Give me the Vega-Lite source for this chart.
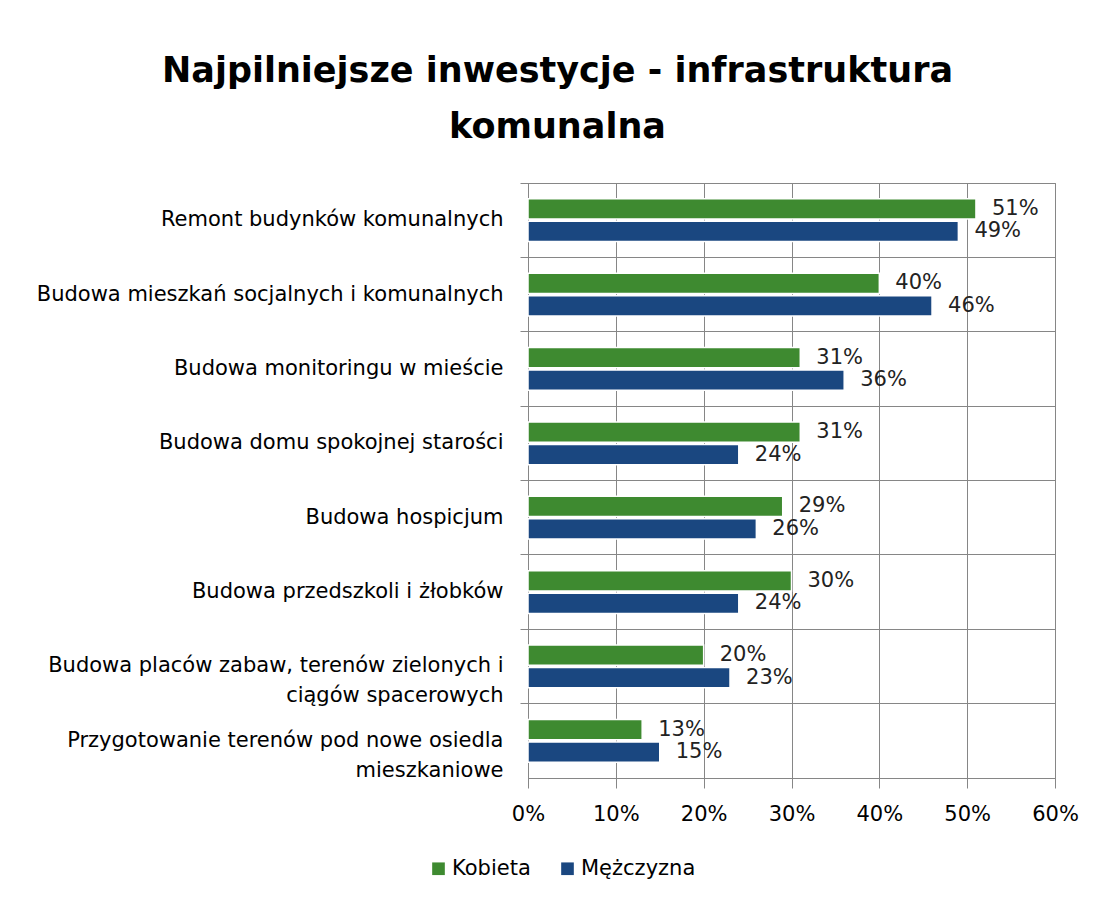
{
  "$schema": "https://vega.github.io/schema/vega-lite/v6.json",
  "width": 527,
  "height": 595,
  "autosize": "none",
  "padding": {"left": 528, "top": 183, "right": 41, "bottom": 122},
  "background": "white",
  "title": {
    "text": ["Najpilniejsze inwestycje - infrastruktura", "komunalna"],
    "font": "DejaVu Sans",
    "fontSize": 35,
    "fontWeight": "bold",
    "color": "#000000",
    "lineHeight": 56,
    "anchor": "middle",
    "dx": -234,
    "offset": 38
  },
  "data": {
    "values": [
      {"kat": "Remont budynków komunalnych", "plec": "Kobieta", "v": 0.51},
      {"kat": "Remont budynków komunalnych", "plec": "Mężczyzna", "v": 0.49},
      {"kat": "Budowa mieszkań socjalnych i komunalnych", "plec": "Kobieta", "v": 0.40},
      {"kat": "Budowa mieszkań socjalnych i komunalnych", "plec": "Mężczyzna", "v": 0.46},
      {"kat": "Budowa monitoringu w mieście", "plec": "Kobieta", "v": 0.31},
      {"kat": "Budowa monitoringu w mieście", "plec": "Mężczyzna", "v": 0.36},
      {"kat": "Budowa domu spokojnej starości", "plec": "Kobieta", "v": 0.31},
      {"kat": "Budowa domu spokojnej starości", "plec": "Mężczyzna", "v": 0.24},
      {"kat": "Budowa hospicjum", "plec": "Kobieta", "v": 0.29},
      {"kat": "Budowa hospicjum", "plec": "Mężczyzna", "v": 0.26},
      {"kat": "Budowa przedszkoli i żłobków", "plec": "Kobieta", "v": 0.30},
      {"kat": "Budowa przedszkoli i żłobków", "plec": "Mężczyzna", "v": 0.24},
      {"kat": "Budowa placów zabaw, terenów zielonych i|ciągów spacerowych", "plec": "Kobieta", "v": 0.20},
      {"kat": "Budowa placów zabaw, terenów zielonych i|ciągów spacerowych", "plec": "Mężczyzna", "v": 0.23},
      {"kat": "Przygotowanie terenów  pod nowe osiedla|mieszkaniowe", "plec": "Kobieta", "v": 0.13},
      {"kat": "Przygotowanie terenów  pod nowe osiedla|mieszkaniowe", "plec": "Mężczyzna", "v": 0.15}
    ]
  },
  "encoding": {
    "y": {
      "field": "kat",
      "type": "nominal",
      "sort": null,
      "scale": {"paddingInner": 0, "paddingOuter": 0},
      "axis": {
        "title": null,
        "bandPosition": 0,
        "grid": true,
        "gridColor": "#868686",
        "tickColor": "#868686",
        "tickSize": 8,
        "domainColor": "#868686",
        "labelPadding": 17,
        "labelFont": "DejaVu Sans",
        "labelFontSize": 21,
        "labelColor": "#000000",
        "labelLimit": 600,
        "labelLineHeight": 30,
        "labelExpr": "split(datum.value, '|')"
      }
    },
    "yOffset": {
      "field": "plec",
      "type": "nominal",
      "sort": ["Kobieta", "Mężczyzna"],
      "scale": {"paddingInner": 0.1, "paddingOuter": 0.7}
    },
    "x": {
      "field": "v",
      "type": "quantitative",
      "scale": {"domain": [0, 0.6]},
      "axis": {
        "title": null,
        "format": ".0%",
        "values": [0, 0.1, 0.2, 0.3, 0.4, 0.5, 0.6],
        "labelOverlap": false,
        "labelFlush": false,
        "grid": true,
        "gridColor": "#868686",
        "tickColor": "#868686",
        "tickSize": 10,
        "domainColor": "#868686",
        "labelPadding": 15,
        "labelFont": "DejaVu Sans",
        "labelFontSize": 21,
        "labelColor": "#000000"
      }
    }
  },
  "layer": [
    {
      "mark": {"type": "bar", "stroke": "white", "strokeWidth": 1.5},
      "encoding": {
        "color": {
          "field": "plec",
          "type": "nominal",
          "sort": ["Kobieta", "Mężczyzna"],
          "scale": {"domain": ["Kobieta", "Mężczyzna"], "range": ["#3e8a30", "#1a4780"]},
          "legend": {
            "title": null,
            "orient": "none",
            "direction": "horizontal",
            "legendX": -100,
            "legendY": 675,
            "symbolType": "square",
            "symbolSize": 160,
            "symbolStrokeWidth": 0,
            "labelFont": "DejaVu Sans",
            "labelFontSize": 21,
            "labelColor": "#000000",
            "labelOffset": 3,
            "columnPadding": 26
          }
        }
      }
    },
    {
      "mark": {"type": "text", "align": "left", "baseline": "middle", "dx": 16, "font": "DejaVu Sans", "fontSize": 21, "color": "#222222"},
      "encoding": {
        "text": {"field": "v", "type": "quantitative", "format": ".0%"}
      }
    }
  ],
  "config": {
    "view": {"stroke": "#868686"}
  }
}
